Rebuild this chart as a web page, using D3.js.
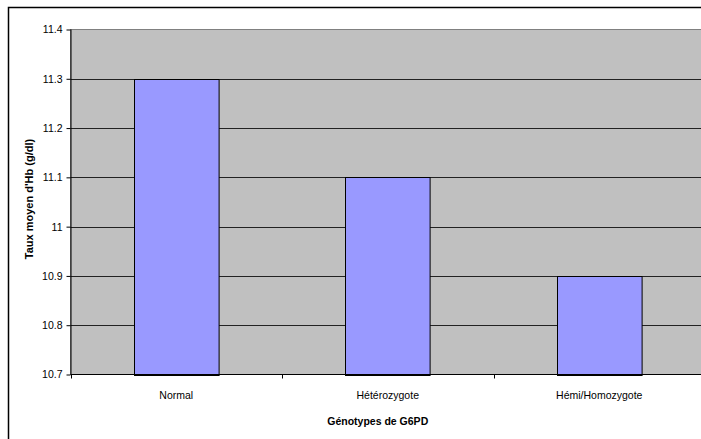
<!DOCTYPE html>
<html>
<head>
<meta charset="utf-8">
<script src="https://cdn.jsdelivr.net/npm/d3@7/dist/d3.min.js"></script>
<style>
  html, body { margin: 0; padding: 0; background: #fff; }
  svg { display: block; }
  text { font-family: "Liberation Sans", Arial, sans-serif; fill: #000; }
</style>
</head>
<body>
<svg id="chart" width="701" height="439"></svg>
<script>
// Mean haemoglobin level by G6PD genotype
const categories = ["Normal", "Hétérozygote", "Hémi/Homozygote"];
const values = [11.3, 11.1, 10.9];
const yTicks = [10.7, 10.8, 10.9, 11.0, 11.1, 11.2, 11.3, 11.4];
const yTickLabels = ["10.7", "10.8", "10.9", "11", "11.1", "11.2", "11.3", "11.4"];
const yTitle = "Taux moyen d'Hb (g/dl)";
const xTitle = "Génotypes de G6PD";

const svg = d3.select("#chart");

// outer chart frame (extends past the right and bottom edges)
svg.append("rect")
  .attr("x", 8.5).attr("y", 7.5)
  .attr("width", 710).attr("height", 440)
  .attr("fill", "#fff").attr("stroke", "#000").attr("stroke-width", 1.5);

const plot = { left: 70.5, top: 29.5, right: 705, bottom: 374.5 };

const x = d3.scaleBand()
  .domain(categories)
  .range([plot.left, plot.right])
  .paddingInner(0.6).paddingOuter(0.3);

const y = d3.scaleLinear()
  .domain([10.7, 11.4])
  .range([plot.bottom, plot.top]);

// grey plot area
svg.append("rect")
  .attr("x", plot.left).attr("y", plot.top)
  .attr("width", plot.right - plot.left).attr("height", plot.bottom - plot.top)
  .attr("fill", "#c0c0c0").attr("stroke", "#808080").attr("stroke-width", 1);

// horizontal gridlines
svg.append("g")
  .selectAll("line")
  .data(yTicks.slice(1, -1))
  .join("line")
  .attr("x1", plot.left).attr("x2", plot.right)
  .attr("y1", d => Math.round(y(d)) + 0.5).attr("y2", d => Math.round(y(d)) + 0.5)
  .attr("stroke", "#222").attr("stroke-width", 1);

// bars
svg.append("g")
  .selectAll("rect")
  .data(values)
  .join("rect")
  .attr("x", (d, i) => Math.round(x(categories[i])) + 0.5)
  .attr("y", d => Math.round(y(d)) + 0.5)
  .attr("width", x.bandwidth())
  .attr("height", d => Math.round(y(10.7)) - Math.round(y(d)))
  .attr("fill", "#9999ff")
  .attr("stroke", "#000").attr("stroke-width", 1);

// y axis
const yAxis = d3.axisLeft(y)
  .tickValues(yTicks)
  .tickFormat((d, i) => yTickLabels[i])
  .tickSize(4).tickPadding(4);
const gy = svg.append("g")
  .attr("transform", `translate(${plot.left},0)`)
  .call(yAxis);
gy.select(".domain").attr("stroke", "#000").attr("d", `M0.5,${plot.top}V${plot.bottom}`);
gy.selectAll(".tick line").attr("stroke", "#000");
gy.selectAll(".tick text")
  .style("font-family", '"Liberation Sans", Arial, sans-serif')
  .style("font-size", "10.5px").attr("fill", "#000");

// x axis: ticks at category boundaries
const boundaries = d3.range(categories.length + 1).map(i => plot.left + i * (plot.right - plot.left) / categories.length);
svg.append("line")
  .attr("x1", plot.left).attr("x2", plot.right)
  .attr("y1", plot.bottom).attr("y2", plot.bottom)
  .attr("stroke", "#000").attr("stroke-width", 1);
svg.append("g")
  .selectAll("line")
  .data(boundaries)
  .join("line")
  .attr("x1", d => Math.round(d) + 0.5).attr("x2", d => Math.round(d) + 0.5)
  .attr("y1", plot.bottom).attr("y2", plot.bottom + 4)
  .attr("stroke", "#000");

svg.append("g")
  .selectAll("text")
  .data(categories)
  .join("text")
  .attr("x", d => x(d) + x.bandwidth() / 2)
  .attr("y", 399)
  .attr("text-anchor", "middle")
  .style("font-size", "10.5px")
  .text(d => d);

// axis titles
svg.append("text")
  .attr("x", (plot.left + 705) / 2 - 10)
  .attr("y", 425)
  .attr("text-anchor", "middle")
  .style("font-size", "10.5px").style("font-weight", "bold")
  .text(xTitle);

svg.append("text")
  .attr("transform", `translate(33,199) rotate(-90)`)
  .attr("text-anchor", "middle")
  .style("font-size", "11px").style("font-weight", "bold")
  .text(yTitle);
</script>
</body>
</html>
